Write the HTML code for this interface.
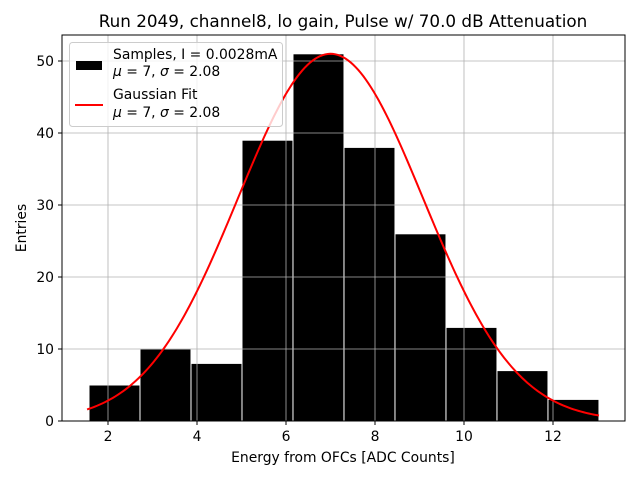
<!DOCTYPE html>
<html><head><meta charset="utf-8"><style>
body{margin:0;background:#fff;font-family:"DejaVu Sans","Liberation Sans",sans-serif;}
svg text{font-family:"DejaVu Sans","Liberation Sans",sans-serif;}
</style></head><body>
<svg id="chart" width="640" height="480" xmlns="http://www.w3.org/2000/svg">
<rect width="640" height="480" fill="#fff"/>
<text x="343" y="27" font-size="16.8" text-anchor="middle">Run 2049, channel8, lo gain, Pulse w/ 70.0 dB Attenuation</text>
<g id="bars"></g>
<g id="grid"></g>
<path id="fit" fill="none" stroke="#ff0000" stroke-width="2"/>
<rect x="62" y="35" width="563" height="386" fill="none" stroke="#000" stroke-width="1"/>
<g id="ticks" font-size="13.9"></g>
<text x="343" y="462" font-size="13.9" text-anchor="middle">Energy from OFCs [ADC Counts]</text>
<text transform="translate(26,228) rotate(-90)" font-size="13.9" text-anchor="middle">Entries</text>
<g>
<rect x="69.5" y="42.5" width="213" height="84" rx="3" fill="#fff" fill-opacity="0.8" stroke="#ccc"/>
<rect x="76" y="61" width="26" height="9" fill="#000"/>
<text x="113" y="59" font-size="13.9">Samples, I = 0.0028mA</text>
<text x="113" y="76" font-size="13.9"><tspan font-style="italic">μ</tspan> = 7, <tspan font-style="italic">σ</tspan> = 2.08</text>
<line x1="75" y1="105" x2="103" y2="105" stroke="#ff0000" stroke-width="2"/>
<text x="113" y="99" font-size="13.9">Gaussian Fit</text>
<text x="113" y="117" font-size="13.9"><tspan font-style="italic">μ</tspan> = 7, <tspan font-style="italic">σ</tspan> = 2.08</text>
</g>
</svg>
<script>
const binStart = 1.573;
const binWidth = 1.146;
const counts = [5, 10, 8, 39, 51, 38, 26, 13, 7, 3];
const xTicks = [2, 4, 6, 8, 10, 12];
const yTicks = [0, 10, 20, 30, 40, 50];
const fitMu = 7;
const fitSigma = 2.08;
const fitAmp = 51;
const NS = "http://www.w3.org/2000/svg";
const xs = v => 19 + v * 44.5;
const ys = v => 421 - v * 7.2;
function mk(tag, attrs, parent) {
  const e = document.createElementNS(NS, tag);
  for (const k in attrs) e.setAttribute(k, attrs[k]);
  parent.appendChild(e);
  return e;
}
const bars = document.getElementById('bars');
counts.forEach((c, i) => {
  const x0 = xs(binStart + i * binWidth), x1 = xs(binStart + (i + 1) * binWidth);
  const r = mk('rect', {x: x0, y: ys(c), width: x1 - x0, height: ys(0) - ys(c), fill: '#000', stroke: '#fff', 'stroke-width': 1}, bars);
  
  
});
const grid = document.getElementById('grid');
const ticks = document.getElementById('ticks');
xTicks.forEach(t => {
  const gl = mk('line', {x1: xs(t), x2: xs(t), y1: 35, y2: 421, stroke: '#b0b0b0', 'stroke-width': 0.8}, grid);
  
  
  const tl = mk('line', {x1: xs(t), x2: xs(t), y1: 421, y2: 425, stroke: '#000'}, ticks);
  
  
  const tx = mk('text', {x: xs(t), y: 441, 'text-anchor': 'middle'}, ticks);
  tx.textContent = t;
  
  
});
yTicks.forEach(t => {
  const gl = mk('line', {x1: 62, x2: 625, y1: ys(t), y2: ys(t), stroke: '#b0b0b0', 'stroke-width': 0.8}, grid);
  
  
  const tl = mk('line', {x1: 58, x2: 62, y1: ys(t), y2: ys(t), stroke: '#000'}, ticks);
  
  
  const tx = mk('text', {x: 54, y: ys(t) + 5, 'text-anchor': 'end'}, ticks);
  tx.textContent = t;
  
  
});
let d = '';
const xa = 1.53, xb = binStart + counts.length * binWidth;
for (let i = 0; i <= 200; i++) {
  const x = xa + (xb - xa) * i / 200;
  const y = fitAmp * Math.exp(-((x - fitMu) ** 2) / (2 * fitSigma ** 2));
  d += (i ? 'L' : 'M') + xs(x).toFixed(2) + ' ' + ys(y).toFixed(2);
}
document.getElementById('fit').setAttribute('d', d);
</script>
</body></html>
